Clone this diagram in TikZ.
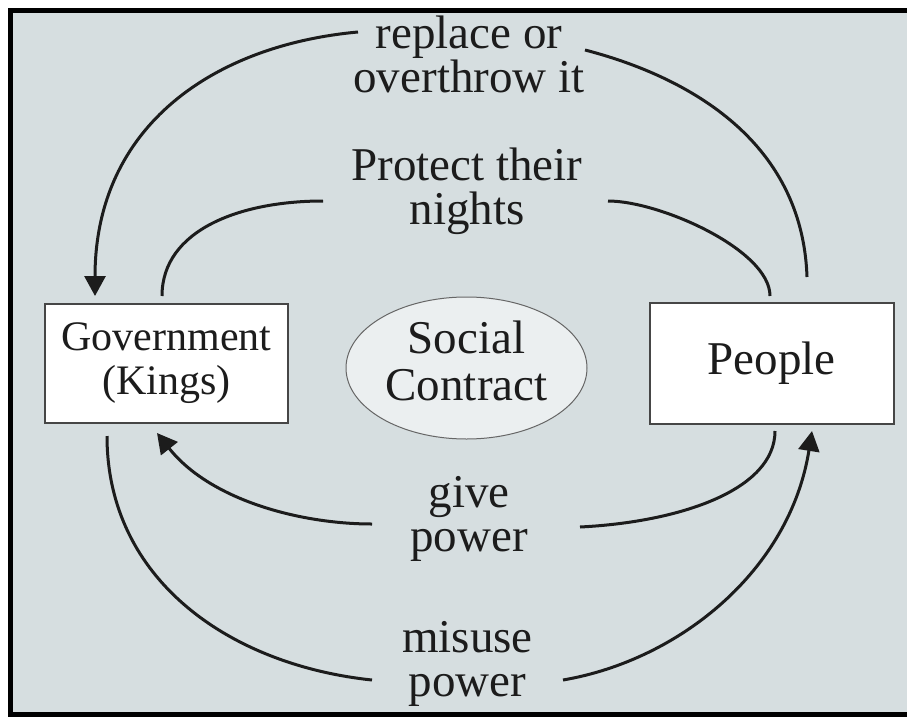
\documentclass[tikz,border=0pt]{standalone}
\usepackage{fontspec}
\setmainfont{Liberation Serif}
\usetikzlibrary{shapes.geometric,arrows.meta,calc}

\definecolor{panel}{RGB}{214,222,224}
\definecolor{oval}{RGB}{235,239,240}
\definecolor{ink}{RGB}{28,28,28}
\definecolor{rim}{RGB}{70,70,70}

\tikzset{
  box/.style={draw=rim, line width=2pt, fill=white, minimum width=244pt, minimum height=120pt, align=center, text=ink},
  lbl/.style={font=\fontsize{47}{44}\selectfont, align=center, inner sep=1pt, text=ink},
  conn/.style={line width=3pt, draw=ink},
  arr/.style={-{Triangle[length=20pt,width=21pt]}}
}

\begin{document}
\begin{tikzpicture}[x=1pt,y=-1pt]
    \useasboundingbox (0,0) rectangle (907,717);
    % Panel and frame
    \fill[white] (0,0) rectangle (907,717);
    \fill[panel] (10.5,10.5) rectangle (907,714.5);
    \draw[line width=5pt] (907,10.5) -- (10.5,10.5) -- (10.5,714.5) -- (907,714.5);

    % The two parties and the contract
    \node[box, font=\fontsize{42}{44}\selectfont, minimum width=243pt, minimum height=119pt] (gov) at (166.5,363.5) {Government\\(Kings)};
    \node[box, font=\fontsize{47}{44}\selectfont, minimum height=121pt] (people) at (771.5,363.5) {People};
    \node[ellipse, draw=gray!80!black, line width=1pt, fill=oval, minimum width=241pt, minimum height=142pt,
          inner sep=1pt, align=center, text=ink, font=\fontsize{47}{47}\selectfont] (sc) at (466.5,368) {Social\\Contract\strut};

    % Labels
    \node[lbl] (rep) at (469,54.5) {replace or\\overthrow it};
    \node[lbl] (prot) at (467,191) {Protect their\\nights};
    \node[lbl] (give) at (469,519) {give\\power};
    \node[lbl] (mis) at (467.5,664) {misuse\\power};

    % replace or overthrow it
    \draw[conn] ($(people.north)+(35.5,-25)$) .. controls (802,130) and (670,72) .. ($(rep)+(116,-4.5)$);
    \draw[conn,arr] ($(rep)+(-111,-22.5)$) .. controls (215,45) and (95,125) .. ($(gov.north)+(-71.5,-7)$);

    % protect their nights
    \draw[conn] ($(gov.north)+(-4.5,-7)$) .. controls (162,230) and (240,201) .. ($(prot)+(-144,10)$);
    \draw[conn] ($(prot)+(141,10)$) .. controls (660,201) and (770,250) .. ($(people.north)+(-1.5,-6)$);

    % give power
    \draw[conn] ($(people.south)+(3.5,6)$) .. controls (775,490) and (680,522) .. ($(give)+(111,8)$);
    \draw[conn,arr] ($(give)+(-97,5)$) .. controls (300,524) and (210,500) .. ($(gov.south)+(-9.5,9)$);

    % misuse power
    \draw[conn] ($(gov.south)+(-59.5,12)$) .. controls (107,580) and (230,665) .. ($(mis)+(-95.5,16)$);
    \draw[conn,arr] ($(mis)+(95.5,16)$) .. controls (680,660) and (790,570) .. ($(people.south)+(40.5,6)$);
\end{tikzpicture}
\end{document}
